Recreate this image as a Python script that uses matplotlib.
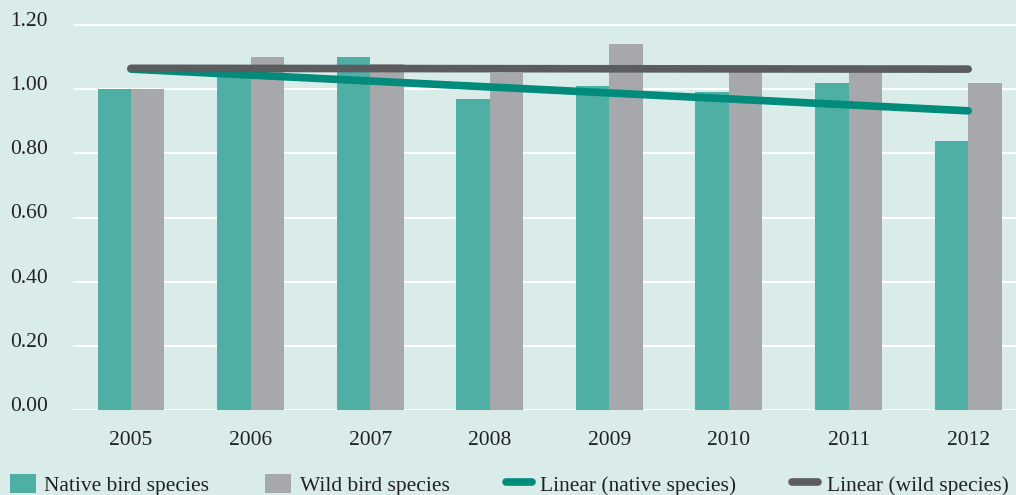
import matplotlib.pyplot as plt
import matplotlib.transforms as mtransforms
import numpy as np

# bird population indices per year
years = ["2005", "2006", "2007", "2008", "2009", "2010", "2011", "2012"]
native = [1.00, 1.05, 1.10, 0.97, 1.01, 0.99, 1.02, 0.84]
wild = [1.00, 1.10, 1.08, 1.05, 1.14, 1.06, 1.06, 1.02]
yticks = [0.0, 0.2, 0.4, 0.6, 0.8, 1.0, 1.2]

bg = "#d9ecea"
teal = "#4fafa5"
grey = "#a7a8ab"
teal_dark = "#008b7b"
grey_dark = "#5b5c5e"
txt = "#222222"

plt.rcParams["font.family"] = ["Liberation Serif", "DejaVu Serif"]

fig = plt.figure(figsize=(10.16, 4.95), dpi=100, facecolor=bg)
ax = fig.add_axes([73 / 1016, 1 - 410 / 495, 1 - 73 / 1016, 405 / 495])
ax.set_facecolor(bg)

x = np.arange(len(years))
w = 0.28
ax.bar(x - w / 2, native, w, color=teal, label="Native bird species", zorder=2)
ax.bar(x + w / 2, wild, w, color=grey, label="Wild bird species", zorder=2)

# least squares trend lines
k1, b1 = np.polyfit(x, native, 1)
k2, b2 = np.polyfit(x, wild, 1)
ax.plot(x[[0, -1]], k1 * x[[0, -1]] + b1, color=teal_dark, lw=5.5,
        solid_capstyle="round", label="Linear (native species)", zorder=3)
ax.plot(x[[0, -1]], k2 * x[[0, -1]] + b2, color=grey_dark, lw=5.5,
        solid_capstyle="round", label="Linear (wild species)", zorder=3)

ax.set_xlim(-0.485, 7.4)
ax.set_ylim(0, 1.2 * 405 / 385)
ax.set_yticks(yticks)
ax.set_yticklabels(["%.2f" % v for v in yticks])
ax.set_xticks(x)
ax.set_xticklabels(years)
ax.grid(axis="y", color="white", lw=1.5, zorder=1)
for s in ax.spines.values():
    s.set_visible(False)
ax.tick_params(axis="y", length=0, pad=45, labelsize=15.5, labelcolor=txt)
ax.tick_params(axis="x", length=0, pad=15, labelsize=15.5, labelcolor=txt)
up = mtransforms.ScaledTranslation(0, 6 / 100, fig.dpi_scale_trans)
for t in ax.get_yticklabels():
    t.set_horizontalalignment("left")
    t.set_transform(t.get_transform() + up)

# bars first, then trend lines
h, l = ax.get_legend_handles_labels()
order = [2, 3, 0, 1]
fig.legend([h[i] for i in order], [l[i] for i in order],
           loc="lower left", bbox_to_anchor=(10 / 1016, -0.002), ncol=4, frameon=False,
           borderpad=0, borderaxespad=0,
           fontsize=15.5, handlelength=1.2, handleheight=1.0, handletextpad=0.4,
           columnspacing=2.6, labelcolor=txt)

fig.savefig("out.png", dpi=100, facecolor=bg)
